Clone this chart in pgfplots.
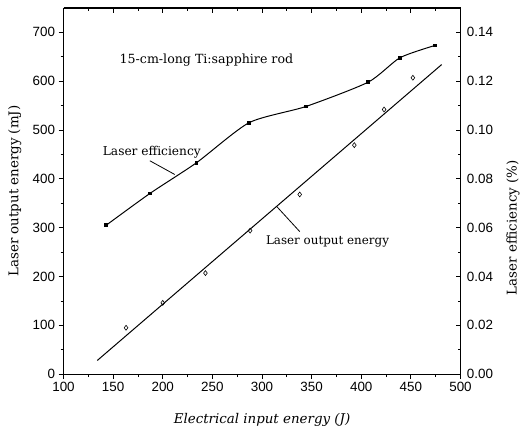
\documentclass[border=0pt]{standalone}
\usepackage{fontspec}
\setmainfont{DejaVu Serif}
\newfontfamily\ticksans{Liberation Sans}
\usepackage{pgfplots}
\pgfplotsset{compat=1.18}

% laser output energy (mJ) vs electrical input energy (J)
\pgfplotstableread{
x y
163 95
200 146
243 207
288 294
338 368
393 469
423 542
452 607
}\outputdata

% laser efficiency (%)
\pgfplotstableread{
x y
143 0.0610
187 0.0740
234 0.0866
287 0.1030
344 0.1096
407 0.1196
439 0.1296
474 0.1346
}\effdata

\pgfplotsset{
  common/.style={
    scale only axis, width=400pt, height=369pt,
    xmin=100, xmax=500,
    xtick={100,150,...,500}, minor x tick num=1,
    axis line style={-, line width=1.2pt},
    tick style={black, line width=0.8pt},
    major tick length=5pt, minor tick length=3pt,
    tick label style={font=\fontsize{13.5}{13.5}\ticksans},
    /pgf/number format/assume math mode=true,
    label style={font=\fontsize{13.5}{13.5}\selectfont},
    clip=false,
  }
}

\begin{document}
\begin{tikzpicture}
\begin{axis}[common,
  ymin=0, ymax=750,
  axis x line*=bottom, axis y line*=left,
  ytick={0,100,...,700}, minor y tick num=1,
  tick align=outside,
  xlabel={\itshape Electrical input energy (J)},
  xlabel style={at={(axis description cs:0.5,-0.125)}, anchor=center},
  ylabel={Laser output energy (mJ)},
  ylabel style={at={(axis description cs:-0.1225,0.5)}, anchor=center},
]
\path (rel axis cs:-0.16,-0.157) rectangle (rel axis cs:1.1475,1.0217);
\addplot[only marks, mark=diamond, mark size=2.5pt, mark options={line width=0.6pt}] table {\outputdata};
% linear fit
\addplot[no marks, line width=1pt] coordinates {(134,28) (481,634)};
\node[font=\fontsize{12.7}{12.7}\selectfont] at (axis cs:244,644) {15-cm-long Ti:sapphire rod};
\node[font=\fontsize{12.3}{12.3}\selectfont] at (axis cs:189,455) {Laser efficiency};
\node[font=\fontsize{12}{12}\selectfont] at (axis cs:366,272) {Laser output energy};
\draw[line width=0.8pt] (axis cs:187,437) -- (axis cs:212,409);
\draw[line width=0.8pt] (axis cs:315,343) -- (axis cs:338,292);
\end{axis}
\begin{axis}[common,
  ymin=0, ymax=0.15,
  axis x line*=top, axis y line*=right,
  xticklabels={},
  ytick={0,0.02,0.04,0.06,0.08,0.10,0.12,0.14}, minor y tick num=1,
  tick align=inside,
  yticklabel style={xshift=3pt, /pgf/number format/.cd, fixed, fixed zerofill, precision=2},
  ylabel={Laser efficiency (\%)},
  ylabel style={at={(axis description cs:1.1325,0.40)}, anchor=center},
]
\addplot[smooth, tension=0.4, line width=1pt, mark=square*, mark size=1.4pt] table {\effdata};
\end{axis}
\end{tikzpicture}
\end{document}
